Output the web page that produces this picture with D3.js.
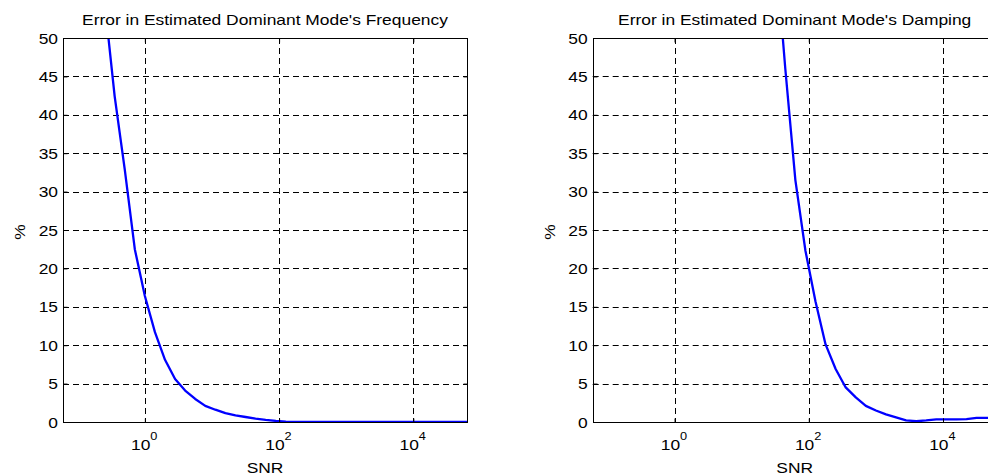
<!DOCTYPE html>
<html>
<head>
<meta charset="utf-8">
<script src="https://cdn.jsdelivr.net/npm/d3@7"></script>
<style>
  html, body { margin: 0; padding: 0; background: #fff; }
  svg { display: block; font-family: "Liberation Sans", Arial, Helvetica, sans-serif; }
</style>
</head>
<body>
<svg id="chart" width="988" height="475"></svg>
<script>
// SNR sample points, in dB
const freqSnrDb = [-6, -4.5, -3, -1.5, 0, 1.5, 3, 4.5, 6, 7.5, 9, 10.5, 12, 13.5, 15, 16.5, 18, 19.5,
  21, 22.5, 24, 25.5, 27, 28.5, 30, 31.5, 33, 34.5, 36, 37.5, 39, 40.5, 42, 43.5, 45, 46.5, 48];
// error in the estimated frequency (%)
const freqError = [54.7, 42.4, 32.9, 22.5, 16.4, 11.7, 8.1, 5.6, 4.1, 3.0, 2.1, 1.6, 1.15, 0.85, 0.65, 0.45, 0.28, 0.14,
  0.05, 0.02, 0.01, 0.01, 0.01, 0.01, 0.01, 0.01, 0.01, 0.01, 0.01, 0.01, 0.01, 0.01, 0.01, 0.01, 0.01, 0.01, 0.01];

const dampSnrDb = [15, 16.5, 18, 19.5, 21, 22.5, 24, 25.5, 27, 28.5, 30, 31.5, 33, 34.5, 36, 37.5, 39, 40.5,
  42, 43.5, 45, 46.5, 48];
// error in the estimated damping (%)
const dampError = [62, 46, 31.5, 22.3, 15.7, 10.1, 6.9, 4.5, 3.2, 2.1, 1.5, 1.0, 0.6, 0.22, 0.1, 0.2, 0.33, 0.35,
  0.35, 0.38, 0.53, 0.55, 0.55];

const xTickValues = [1, 100, 10000];
const xTickExponents = ["0", "2", "4"];
const yTickValues = [0, 5, 10, 15, 20, 25, 30, 35, 40, 45, 50];
const xDomain = [Math.pow(10, -1.22), Math.pow(10, 4.8)];
const yDomain = [0, 50];

const titles = ["Error in Estimated Dominant Mode's Frequency", "Error in Estimated Dominant Mode's Damping"];
const xLabel = "SNR";
const yLabel = "%";

const svg = d3.select("#chart");
const FONT = 15;      // base font size
const STRETCH = 1.16; // glyphs are drawn slightly wide

// text placed at (x, y) with a horizontal stretch
function label(parent, x, y, str, anchor, size) {
  const g = parent.append("g").attr("transform", `translate(${x},${y}) scale(${STRETCH},1)`);
  return g.append("text").attr("text-anchor", anchor || "middle")
    .attr("font-size", size || FONT).attr("fill", "#000").text(str);
}

function drawPanel(idx, left, snrDb, errs) {
  const top = 38, bottom = 422, width = 404;
  const right = left + width;
  const x = d3.scaleLog().domain(xDomain).range([left, right]);
  const y = d3.scaleLinear().domain(yDomain).range([bottom, top]);
  const g = svg.append("g");

  const clipId = "clip" + idx;
  svg.append("defs").append("clipPath").attr("id", clipId)
    .append("rect").attr("x", left).attr("y", top).attr("width", width).attr("height", bottom - top);

  // dashed grid
  const grid = g.append("g").attr("stroke", "#000").attr("stroke-width", 1)
    .attr("stroke-dasharray", "6,4").attr("fill", "none");
  yTickValues.slice(1, -1).forEach(v => {
    const yy = Math.round(y(v)) + 0.5;
    grid.append("line").attr("x1", left).attr("x2", right).attr("y1", yy).attr("y2", yy);
  });
  xTickValues.forEach(v => {
    const xx = Math.round(x(v)) + 0.5;
    grid.append("line").attr("x1", xx).attr("x2", xx).attr("y1", top).attr("y2", bottom);
  });

  // curve
  const line = d3.line()
    .x((d, i) => x(Math.pow(10, snrDb[i] / 10)))
    .y(d => y(d));
  g.append("path").datum(errs)
    .attr("clip-path", `url(#${clipId})`)
    .attr("fill", "none").attr("stroke", "#0000ff").attr("stroke-width", 2.3)
    .attr("stroke-linejoin", "round")
    .attr("d", line);

  // box
  g.append("rect").attr("x", Math.round(left) + 0.5).attr("y", top + 0.5)
    .attr("width", width).attr("height", bottom - top)
    .attr("fill", "none").attr("stroke", "#000").attr("stroke-width", 1);

  // inward ticks on all four sides
  const yAxisL = d3.axisLeft(y).tickValues(yTickValues).tickSize(-4).tickFormat("");
  g.append("g").attr("transform", `translate(${Math.round(left) + 0.5},0)`).call(yAxisL).select(".domain").remove();
  const yAxisR = d3.axisRight(y).tickValues(yTickValues).tickSize(-4).tickFormat("");
  g.append("g").attr("transform", `translate(${Math.round(right) + 0.5},0)`).call(yAxisR).select(".domain").remove();
  const xAxisB = d3.axisBottom(x).tickValues(xTickValues).tickSize(-4).tickFormat("");
  g.append("g").attr("transform", `translate(0,${bottom + 0.5})`).call(xAxisB).select(".domain").remove();
  const xAxisT = d3.axisTop(x).tickValues(xTickValues).tickSize(-4).tickFormat("");
  g.append("g").attr("transform", `translate(0,${top + 0.5})`).call(xAxisT).select(".domain").remove();

  // y tick labels
  yTickValues.forEach(v => label(g, left - 5, y(v) + 5.5, String(v), "end"));

  // x tick labels as 10^n
  xTickValues.forEach((v, i) => {
    label(g, x(v) + 5.5, 450, "10", "end");
    label(g, x(v) + 5.5, 440, xTickExponents[i], "start", 11);
  });

  label(g, left + width / 2, 473, xLabel, "middle");

  g.append("text").attr("transform", `translate(${left - 38},232) rotate(-90) scale(${STRETCH},1)`)
    .attr("text-anchor", "middle").attr("font-size", FONT).attr("fill", "#000").text(yLabel);

  label(g, left + width / 2, 25, titles[idx], "middle");
}

drawPanel(0, 63, freqSnrDb, freqError);
drawPanel(1, 592.7, dampSnrDb, dampError);
</script>
</body>
</html>
